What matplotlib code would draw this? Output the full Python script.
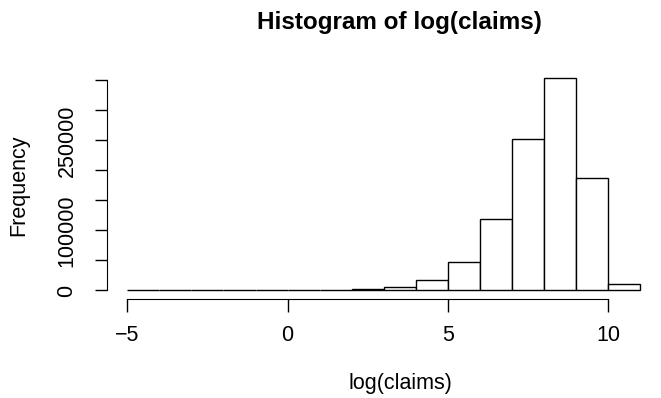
import numpy as np
import matplotlib.pyplot as plt

plt.rcParams['font.family'] = ['Liberation Sans', 'DejaVu Sans']

# histogram bins of log(claims), width 1
edges = np.arange(-5, 12, 1)
counts = [30, 60, 150, 400, 500, 600, 900, 1800, 5600, 17200,
          47800, 118800, 252000, 354500, 186700, 11100]
xticks = [-5, 0, 5, 10]
xtick_labels = ['\u22125', '0', '5', '10']
yticks = np.arange(0, 350001, 50000)
ytick_labels = ['0', '', '100000', '', '', '250000', '', '']

fig = plt.figure(figsize=(6.61, 3.98), dpi=100)
ax = fig.add_axes([0.1614, 0.2487, 0.8386, 0.5784])

ax.bar(edges[:-1], counts, width=1, align='edge', color='white',
       edgecolor='black', linewidth=1)

ax.set_xlim(-5.64, 11.64)
ax.set_ylim(-14200, 369200)

for s in ['top', 'right']:
    ax.spines[s].set_visible(False)
ax.spines['left'].set_bounds(0, 350000)
ax.spines['bottom'].set_bounds(-5, 10)

ax.set_xticks(xticks)
ax.set_xticklabels(xtick_labels)
ax.set_yticks(yticks)
ax.set_yticklabels(ytick_labels, rotation=90, va='center')
ax.tick_params(axis='both', length=9, width=1, labelsize=15.5)
ax.tick_params(axis='x', pad=10)
ax.tick_params(axis='y', pad=12)

fig.text(399 / 661, 1 - 22 / 398, 'Histogram of log(claims)', ha='center',
         va='center', fontsize=17.5, fontweight='bold')
fig.text(400 / 661, 1 - 383 / 398, 'log(claims)', ha='center', va='center',
         fontsize=15.5)
fig.text(19 / 661, 1 - 185 / 398, 'Frequency', ha='center', va='center',
         fontsize=15.5, rotation=90)

fig.savefig('out.png', dpi=100)
